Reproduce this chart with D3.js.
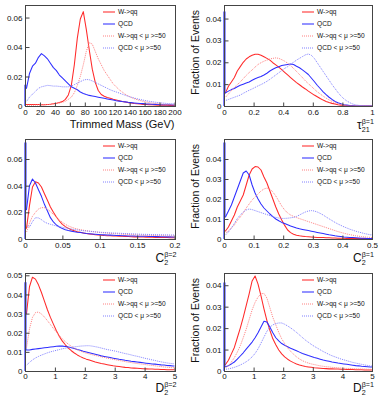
<!DOCTYPE html>
<html><head><meta charset="utf-8">
<script src="https://cdn.jsdelivr.net/npm/d3@7"></script>
<style>body{margin:0;background:#fff}svg{display:block;font-family:"Liberation Sans",Arial,sans-serif}</style>
</head><body><svg id="c" width="378" height="396"></svg>
<script>
// ---------------- DATA ----------------
const legendLabels = ["W->qq", "QCD", "W->qq < \u03bc >=50", "QCD < \u03bc >=50"];

// Panel 1: Trimmed mass, 0-200 GeV, 50 bins
const massXTicks = [0,20,40,60,80,100,120,140,160,180,200];
const massYTicks = [0,0.02,0.04,0.06];
const massW = [0.001,0.001,0.001,0.001,0.001,0.0008,0.0008,0.001,0.0012,0.0015,
 0.0018,0.0023,0.003,0.0045,0.0075,0.014,0.028,0.046,0.059,0.064,
 0.052,0.038,0.025,0.016,0.0105,0.0078,0.0066,0.0058,0.0052,0.0046,
 0.0041,0.0036,0.0031,0.0027,0.0023,0.002,0.0017,0.0015,0.0013,0.0011,
 0.001,0.0009,0.0008,0.0007,0.0006,0.0006,0.0005,0.0005,0.0004,0.0004];
const massQCD = [0.012,0.022,0.027,0.029,0.033,0.0355,0.034,0.032,0.029,0.026,
 0.024,0.021,0.019,0.017,0.015,0.013,0.012,0.011,0.0095,0.0085,
 0.0078,0.0072,0.0068,0.0064,0.006,0.0056,0.0052,0.0048,0.0044,0.004,
 0.0036,0.0033,0.003,0.0028,0.0025,0.0023,0.0021,0.0019,0.0017,0.0016,
 0.0014,0.0013,0.0012,0.0011,0.001,0.0009,0.0009,0.0008,0.0008,0.0007];
const massWPU = [0.0005,0.0005,0.0005,0.0006,0.0007,0.0008,0.0009,0.001,0.0012,0.0014,
 0.0017,0.002,0.0025,0.0032,0.0045,0.006,0.009,0.014,0.02,0.028,
 0.037,0.043,0.042,0.037,0.032,0.028,0.024,0.021,0.018,0.015,
 0.013,0.011,0.0095,0.008,0.0068,0.0058,0.005,0.0043,0.0037,0.0032,
 0.0027,0.0023,0.002,0.0017,0.0015,0.0013,0.0011,0.001,0.0009,0.0008];
const massQCDPU = [0.003,0.006,0.008,0.01,0.012,0.013,0.0135,0.014,0.0138,0.0135,
 0.0135,0.0133,0.013,0.013,0.013,0.0135,0.0145,0.0155,0.0165,0.0175,
 0.018,0.0178,0.017,0.016,0.015,0.014,0.013,0.012,0.011,0.0102,
 0.0095,0.0088,0.008,0.0073,0.0066,0.006,0.0054,0.0049,0.0044,0.004,
 0.0036,0.0032,0.0029,0.0026,0.0023,0.0021,0.0019,0.0017,0.0016,0.0015];

// Panel 2: tau21 beta=1, 0-1, 50 bins
const tauXTicks = [0,0.2,0.4,0.6,0.8,1];
const tauYTicks = [0,0.01,0.02,0.03,0.04];
const tauW = [0.006,0.009,0.011,0.013,0.016,0.018,0.02,0.0215,0.0225,0.0232,
 0.0237,0.0237,0.0232,0.0225,0.0218,0.021,0.0198,0.0188,0.0178,0.0166,
 0.0154,0.0142,0.013,0.0118,0.0107,0.0097,0.0087,0.0078,0.0068,0.0059,
 0.005,0.0042,0.0034,0.0027,0.0021,0.0016,0.0012,0.0009,0.0006,0.0004,
 0.0003,0.0002,0.0001,0,0,0,0,0,0,0];
const tauQCD = [0.006,0.0068,0.0075,0.008,0.0088,0.0095,0.01,0.0105,0.011,0.0118,
 0.0125,0.013,0.0135,0.0142,0.015,0.016,0.0168,0.0175,0.018,0.0185,
 0.0188,0.019,0.0192,0.019,0.0182,0.0175,0.0165,0.0155,0.0144,0.0128,
 0.0112,0.0095,0.008,0.0065,0.0052,0.004,0.003,0.0021,0.0015,0.001,
 0.0006,0.0004,0.0002,0.0001,0,0,0,0,0,0];
const tauWPU = [0.004,0.0055,0.007,0.0085,0.0098,0.011,0.0125,0.014,0.0153,0.0165,
 0.0178,0.019,0.0198,0.0205,0.021,0.0215,0.0218,0.022,0.0218,0.0212,
 0.0205,0.0196,0.0185,0.0172,0.0158,0.0144,0.013,0.0115,0.0102,0.009,
 0.0077,0.0065,0.0055,0.0045,0.0036,0.0028,0.0021,0.0015,0.001,0.0007,
 0.0004,0.0002,0.0001,0,0,0,0,0,0,0];
const tauQCDPU = [0.0025,0.003,0.0035,0.004,0.0045,0.005,0.0058,0.0065,0.0072,0.0078,
 0.0085,0.0092,0.0098,0.0105,0.0113,0.0122,0.0132,0.0142,0.0152,0.0162,
 0.0172,0.018,0.019,0.02,0.021,0.0218,0.0226,0.0234,0.0238,0.0232,
 0.0218,0.0198,0.0178,0.0158,0.0138,0.0118,0.0098,0.008,0.0062,0.0046,
 0.0033,0.0023,0.0015,0.0009,0.0005,0.0003,0.0001,0,0,0];

// Panel 3: C2 beta=2, 0-0.2, 50 bins
const c2b2XTicks = [0,0.05,0.1,0.15,0.2];
const c2b2YTicks = [0,0.02,0.04,0.06];
const c2b2W = [0.008,0.025,0.039,0.043,0.042,0.039,0.034,0.029,0.024,0.020,
 0.0165,0.0135,0.011,0.0093,0.008,0.007,0.0062,0.0055,0.005,0.0045,
 0.0041,0.0038,0.0035,0.0032,0.003,0.0028,0.0026,0.0025,0.0024,0.0023,
 0.0022,0.0021,0.002,0.0019,0.0018,0.0017,0.0016,0.0016,0.0015,0.0015,
 0.0014,0.0013,0.0013,0.0012,0.0012,0.0011,0.0011,0.0011,0.001,0.001];
const c2b2QCD = [0.022,0.040,0.045,0.042,0.037,0.032,0.026,0.021,0.016,0.0128,
 0.0105,0.009,0.0078,0.007,0.0064,0.0059,0.0055,0.0051,0.0048,0.0045,
 0.0042,0.004,0.0038,0.0036,0.0034,0.0032,0.0031,0.003,0.0029,0.0028,
 0.0027,0.0026,0.0025,0.0024,0.0023,0.0022,0.0022,0.0021,0.0021,0.002,
 0.002,0.0019,0.0019,0.0018,0.0018,0.0017,0.0017,0.0016,0.0016,0.0015];
const c2b2WPU = [0.005,0.012,0.017,0.020,0.0225,0.0235,0.0235,0.0225,0.0205,0.0185,
 0.0162,0.0142,0.0125,0.011,0.0098,0.0089,0.0081,0.0075,0.007,0.0066,
 0.0062,0.0059,0.0056,0.0053,0.005,0.0048,0.0046,0.0044,0.0042,0.0041,
 0.0039,0.0038,0.0036,0.0035,0.0034,0.0033,0.0032,0.0031,0.003,0.0029,
 0.0028,0.0027,0.0027,0.0026,0.0025,0.0025,0.0024,0.0023,0.0023,0.0022];
const c2b2QCDPU = [0.010,0.009,0.013,0.016,0.0158,0.0145,0.0128,0.0117,0.011,0.0104,
 0.0098,0.0093,0.0088,0.0083,0.0079,0.0075,0.0071,0.0068,0.0065,0.0062,
 0.006,0.0058,0.0056,0.0054,0.0052,0.005,0.0049,0.0047,0.0046,0.0045,
 0.0044,0.0043,0.0042,0.0041,0.004,0.0039,0.0038,0.0037,0.0036,0.0035,
 0.0035,0.0034,0.0033,0.0033,0.0032,0.0032,0.0031,0.0031,0.003,0.003];

// Panel 4: C2 beta=1, 0-0.5, 50 bins
const c2b1XTicks = [0,0.1,0.2,0.3,0.4,0.5];
const c2b1YTicks = [0,0.01,0.02,0.03,0.04];
const c2b1W = [0.004,0.006,0.009,0.012,0.016,0.019,0.022,0.027,0.032,0.035,
 0.0362,0.036,0.0345,0.031,0.028,0.024,0.02,0.016,0.0125,0.0095,
 0.0068,0.0045,0.0032,0.0024,0.0019,0.0016,0.0014,0.0012,0.0011,0.001,
 0.0009,0.0008,0.0008,0.0007,0.0006,0.0006,0.0005,0.0005,0.0004,0.0004,
 0.0004,0.0003,0.0003,0.0003,0.0003,0.0002,0.0002,0.0002,0.0002,0.0002];
const c2b1QCD = [0.011,0.014,0.017,0.021,0.025,0.029,0.033,0.034,0.032,0.027,
 0.023,0.02,0.0175,0.0155,0.014,0.0125,0.0112,0.01,0.0091,0.0083,
 0.0077,0.0071,0.0065,0.006,0.0055,0.0051,0.0048,0.0045,0.0042,0.0039,
 0.0036,0.0033,0.003,0.0027,0.0024,0.0021,0.0019,0.0016,0.0014,0.0012,
 0.001,0.0009,0.0008,0.0007,0.0006,0.0005,0.0004,0.0004,0.0003,0.0003];
const c2b1WPU = [0.003,0.004,0.0055,0.007,0.0093,0.011,0.013,0.0155,0.0175,0.0195,
 0.021,0.0225,0.024,0.025,0.0255,0.025,0.0235,0.0215,0.019,0.0165,
 0.0145,0.013,0.012,0.0113,0.0107,0.0102,0.0097,0.0092,0.0087,0.0082,
 0.0077,0.0072,0.0067,0.0062,0.0057,0.0052,0.0047,0.0042,0.0037,0.0033,
 0.0029,0.0025,0.0022,0.0019,0.0016,0.0014,0.0012,0.001,0.0009,0.0008];
const c2b1QCDPU = [0.002,0.0035,0.0055,0.0078,0.0102,0.012,0.0135,0.0145,0.015,0.0147,
 0.0142,0.0137,0.0132,0.0127,0.0122,0.0117,0.0112,0.0108,0.0105,0.0103,
 0.0103,0.0104,0.0106,0.0108,0.0113,0.012,0.0128,0.0135,0.014,0.0142,
 0.014,0.0135,0.0128,0.012,0.011,0.0101,0.0092,0.0083,0.0075,0.0068,
 0.0061,0.0055,0.0049,0.0044,0.0039,0.0035,0.0031,0.0027,0.0024,0.0021];

// Panel 5: D2 beta=2, 0-5, 50 bins
const d2b2XTicks = [0,1,2,3,4,5];
const d2b2YTicks = [0,0.01,0.02,0.03,0.04,0.05];
const d2b2W = [0.03,0.044,0.049,0.048,0.045,0.041,0.0365,0.032,0.028,0.0245,
 0.021,0.018,0.0156,0.0137,0.012,0.0106,0.0094,0.0084,0.0075,0.0068,
 0.0062,0.0057,0.0052,0.0047,0.0043,0.0039,0.0036,0.0033,0.003,0.0027,
 0.0025,0.0023,0.0021,0.0019,0.0018,0.0016,0.0015,0.0014,0.0013,0.0012,
 0.0011,0.001,0.001,0.0009,0.0009,0.0008,0.0008,0.0007,0.0007,0.0007];
const d2b2QCD = [0.011,0.011,0.0113,0.0115,0.0117,0.0119,0.0121,0.0123,0.0125,0.0127,
 0.0129,0.013,0.013,0.0128,0.0125,0.0121,0.0117,0.0112,0.0108,0.0103,
 0.0099,0.0095,0.0091,0.0087,0.0083,0.0079,0.0076,0.0073,0.007,0.0067,
 0.0064,0.0061,0.0059,0.0056,0.0054,0.0051,0.0049,0.0047,0.0045,0.0043,
 0.0041,0.0039,0.0037,0.0036,0.0034,0.0032,0.0031,0.0029,0.0028,0.0026];
const d2b2WPU = [0.012,0.022,0.028,0.0305,0.0308,0.0298,0.0282,0.0263,0.0243,0.0222,
 0.0203,0.0185,0.0168,0.0153,0.014,0.0129,0.0119,0.0111,0.0104,0.0098,
 0.0093,0.0089,0.0085,0.0081,0.0078,0.0074,0.0071,0.0067,0.0064,0.0061,
 0.0058,0.0055,0.0052,0.0049,0.0046,0.0044,0.0041,0.0039,0.0037,0.0035,
 0.0033,0.0031,0.0029,0.0027,0.0025,0.0023,0.0021,0.002,0.0018,0.0017];
const d2b2QCDPU = [0.003,0.0045,0.0058,0.0068,0.0076,0.0083,0.0089,0.0095,0.01,0.0104,
 0.0108,0.0112,0.0116,0.0119,0.0122,0.0124,0.0126,0.0128,0.013,0.0131,
 0.0132,0.0132,0.013,0.0127,0.0124,0.012,0.0116,0.0112,0.0109,0.0106,
 0.0103,0.0099,0.0095,0.0091,0.0088,0.0084,0.008,0.0077,0.0073,0.0069,
 0.0065,0.0062,0.0058,0.0055,0.0051,0.0048,0.0045,0.0042,0.004,0.0038];

// Panel 6: D2 beta=1, 0-5, 50 bins
const d2b1XTicks = [0,1,2,3,4,5];
const d2b1YTicks = [0,0.01,0.02,0.03,0.04];
const d2b1W = [0.003,0.005,0.008,0.011,0.0155,0.02,0.025,0.0305,0.036,0.042,
 0.0443,0.0405,0.035,0.029,0.0235,0.019,0.015,0.0122,0.0098,0.008,
 0.0066,0.0055,0.0046,0.0039,0.0033,0.0028,0.0024,0.0021,0.0019,0.0017,
 0.0015,0.0014,0.0013,0.0012,0.0011,0.001,0.001,0.0009,0.0009,0.0008,
 0.0008,0.0007,0.0007,0.0007,0.0006,0.0006,0.0006,0.0005,0.0005,0.0005];
const d2b1QCD = [0.002,0.0025,0.0033,0.0042,0.0055,0.007,0.0085,0.0102,0.0118,0.0135,
 0.0155,0.0178,0.0205,0.0232,0.0228,0.0205,0.0178,0.0155,0.014,0.0128,
 0.012,0.0113,0.0106,0.01,0.0094,0.0088,0.0082,0.0077,0.0072,0.0068,
 0.0063,0.0059,0.0055,0.0051,0.0048,0.0045,0.0042,0.004,0.0037,0.0035,
 0.0033,0.0031,0.0029,0.0027,0.0025,0.0024,0.0022,0.0021,0.002,0.0019];
const d2b1WPU = [0.0015,0.0025,0.0042,0.0062,0.0088,0.0118,0.0155,0.0195,0.024,0.0285,
 0.032,0.0345,0.036,0.0362,0.034,0.0295,0.025,0.0215,0.018,0.015,
 0.0128,0.0108,0.0092,0.0078,0.0066,0.0056,0.0048,0.0042,0.0037,0.0033,
 0.003,0.0027,0.0024,0.0022,0.002,0.0019,0.0017,0.0016,0.0015,0.0014,
 0.0013,0.0012,0.0012,0.0011,0.001,0.001,0.0009,0.0009,0.0008,0.0008];
const d2b1QCDPU = [0.0008,0.001,0.0013,0.0017,0.0022,0.0028,0.0035,0.0043,0.0053,0.0066,
 0.0082,0.0103,0.013,0.0158,0.0185,0.0205,0.0215,0.0221,0.0224,0.0224,
 0.0218,0.021,0.0201,0.0191,0.018,0.0168,0.0156,0.0144,0.0134,0.0124,
 0.0115,0.0107,0.0099,0.0091,0.0084,0.0077,0.0071,0.0066,0.0061,0.0056,
 0.0052,0.0048,0.0044,0.004,0.0037,0.0034,0.0031,0.0028,0.0026,0.0023];

// QCD first-bin (value exactly zero) spikes, per panel
const qcdZeroSpike = [0.014, 0.043, 0.072, 0.048, 0.046, 0.041];

// ---------------- LAYOUT ----------------
const svg = d3.select("#c");
const cols = [{x0:25, x1:174.5}, {x0:224, x1:372}];
const rows = [{y0:5, y1:106}, {y0:139, y1:239}, {y0:273, y1:371}];
const styles = [
  {color:"#ff2a2a", width:1.05, dash:null},
  {color:"#2e2eff", width:1.05, dash:null},
  {color:"#ff8080", width:1.0, dash:"1,1"},
  {color:"#8080ff", width:1.0, dash:"1,1"}
];

const panels = [
  {c:0, r:0, xd:[0,200], ymax:0.0685, xt:massXTicks, yt:massYTicks, s:[massW,massQCD,massWPU,massQCDPU], title:{plain:"Trimmed Mass (GeV)"}},
  {c:1, r:0, xd:[0,1], ymax:0.0462, xt:tauXTicks, yt:tauYTicks, s:[tauW,tauQCD,tauWPU,tauQCDPU], title:{main:"\u03c4", sub:"21", sup:"\u03b2=1"}},
  {c:0, r:1, xd:[0,0.2], ymax:0.075, xt:c2b2XTicks, yt:c2b2YTicks, s:[c2b2W,c2b2QCD,c2b2WPU,c2b2QCDPU], title:{main:"C", sub:"2", sup:"\u03b2=2"}},
  {c:1, r:1, xd:[0,0.5], ymax:0.05, xt:c2b1XTicks, yt:c2b1YTicks, s:[c2b1W,c2b1QCD,c2b1WPU,c2b1QCDPU], title:{main:"C", sub:"2", sup:"\u03b2=1"}},
  {c:0, r:2, xd:[0,5], ymax:0.0512, xt:d2b2XTicks, yt:d2b2YTicks, s:[d2b2W,d2b2QCD,d2b2WPU,d2b2QCDPU], title:{main:"D", sub:"2", sup:"\u03b2=2"}},
  {c:1, r:2, xd:[0,5], ymax:0.0457, xt:d2b1XTicks, yt:d2b1YTicks, s:[d2b1W,d2b1QCD,d2b1WPU,d2b1QCDPU], title:{main:"D", sub:"2", sup:"\u03b2=1"}}
];

panels.forEach((p, pi) => {
  const {x0, x1} = cols[p.c];
  const {y0, y1} = rows[p.r];
  const x = d3.scaleLinear().domain(p.xd).range([x0, x1]);
  const y = d3.scaleLinear().domain([0, p.ymax]).range([y1, y0]);
  const g = svg.append("g");

  // histograms (fine bins drawn through bin centres)
  const n = p.s[0].length;
  const step = (p.xd[1] - p.xd[0]) / n;
  const line = d3.line().x(d => x(d[0])).y(d => y(d[1]));
  const stepLine = d3.line().curve(d3.curveStepAfter).x(d => x(d[0])).y(d => y(d[1]));
  p.s.forEach((vals, si) => {
    const pts = vals.map((v, i) => [p.xd[0] + (i + 0.5) * step, v]);
    pts.unshift([p.xd[0], vals[0]]);
    pts.push([p.xd[1], vals[n - 1]]);
    const st = styles[si];
    g.append("path").attr("d", line(pts)).attr("fill", "none")
      .attr("stroke", st.color).attr("stroke-width", st.width)
      .attr("stroke-dasharray", st.dash).attr("stroke-linejoin", "round");
    if (si === 1) {
      const w = (p.xd[1] - p.xd[0]) * 0.006;
      g.append("path").attr("d", stepLine([[p.xd[0], 0], [p.xd[0], qcdZeroSpike[pi]], [p.xd[0] + w, vals[0]]]))
        .attr("fill", "none").attr("stroke", st.color).attr("stroke-width", 1.2);
    }
  });

  // frame
  g.append("rect").attr("x", Math.round(x0) + 0.5).attr("y", Math.round(y0) + 0.5)
    .attr("width", Math.round(x1) - Math.round(x0)).attr("height", Math.round(y1) - Math.round(y0))
    .attr("fill", "none").attr("stroke", "#444").attr("stroke-width", 1);

  // axes
  const ya = g.append("g").attr("transform", `translate(${Math.round(x0) + 0.5},0)`)
    .call(d3.axisLeft(y).tickValues(p.yt).tickSize(-4).tickPadding(3).tickFormat(d => String(d)));
  const xa = g.append("g").attr("transform", `translate(0,${Math.round(y1) + 0.5})`)
    .call(d3.axisBottom(x).tickValues(p.xt).tickSize(-4).tickPadding(p.r === 2 ? 1.8 : 2.5).tickFormat(d => String(d)));
  [ya, xa].forEach(a => {
    a.select(".domain").remove();
    a.selectAll("line").attr("stroke", "#444");
    a.selectAll("text").attr("font-size", 8).attr("fill", "#111")
      .attr("font-family", "'Liberation Sans',Arial,sans-serif");
  });

  // legend
  const lx = x0 + 78;
  const lOff = [7, 19, 31, 43];
  legendLabels.forEach((lab, li) => {
    const ly = y0 + lOff[li];
    const st = styles[li];
    g.append("line").attr("x1", lx).attr("x2", lx + 12).attr("y1", ly).attr("y2", ly)
      .attr("stroke", st.color).attr("stroke-width", st.width).attr("stroke-dasharray", st.dash);
    g.append("text").attr("x", lx + 15).attr("y", ly).attr("dy", "0.35em")
      .attr("font-size", 6.6).attr("fill", "#111").text(lab);
  });

  // x-axis title
  const t = p.title;
  const tb = Math.min(y1 + 23, 392);
  if (t.plain) {
    g.append("text").attr("x", x1).attr("y", y1 + 22).attr("text-anchor", "end")
      .attr("font-size", 11).attr("fill", "#111").text(t.plain);
  } else {
    const tg = g.append("g");
    const m = tg.append("text").attr("x", 0).attr("y", 0).attr("font-size", 12).attr("fill", "#111").text(t.main);
    const mw = m.node().getComputedTextLength();
    const sb = tg.append("text").attr("x", mw).attr("y", 2.5).attr("font-size", 7.2).attr("fill", "#111").text(t.sub);
    const su = tg.append("text").attr("x", mw).attr("y", -5.5).attr("font-size", 7.2).attr("fill", "#111").text(t.sup);
    const tw = mw + Math.max(sb.node().getComputedTextLength(), su.node().getComputedTextLength());
    tg.attr("transform", `translate(${x1 + 2 - tw},${tb})`);
  }

  // y-axis title (right column)
  if (p.c === 1) {
    g.append("text").attr("transform", `translate(${x0 - 25},${y0 + 5}) rotate(-90)`)
      .attr("text-anchor", "end").attr("font-size", 10.5).attr("fill", "#111").text("Fraction of Events");
  }
});
</script></body></html>
